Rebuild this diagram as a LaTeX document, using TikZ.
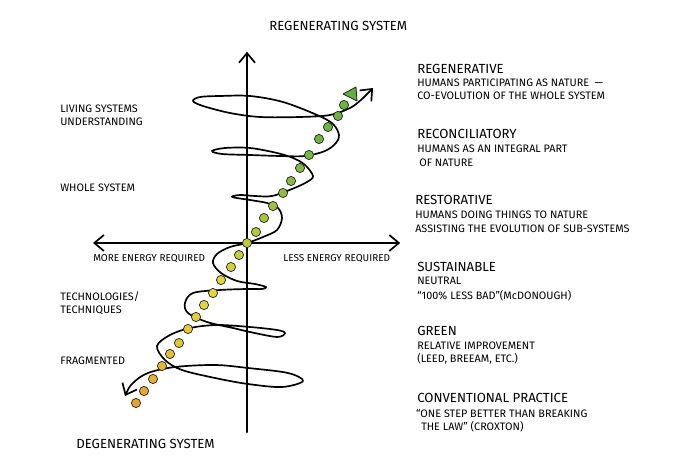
\documentclass[tikz,border=0pt]{standalone}
\usepackage{fontspec}
\setmainfont{Fira Sans}
\usetikzlibrary{arrows.meta}

\definecolor{dotgreen}{RGB}{110,180,66}
\definecolor{dotyellow}{RGB}{226,212,60}
\definecolor{dotorange}{RGB}{232,162,50}
\definecolor{flaggreen}{RGB}{96,176,58}

\tikzset{
  hand/.style={line width=1.2pt, line cap=round, line join=round},
  txt/.style={anchor=base west, inner sep=0pt, font=\fontsize{7.7}{9}\selectfont},
  axtxt/.style={anchor=base west, inner sep=0pt, font=\fontsize{7.1}{8}\selectfont},
  head/.style={anchor=base west, inner sep=0pt, font=\fontsize{9.4}{11}\selectfont},
  dot/.style={shape=circle, draw=black!85, line width=0.5pt, inner sep=0pt, minimum size=0.23cm}
}

\begin{document}
\begin{tikzpicture}[>={Straight Barb[length=2.4mm,width=4mm]}]

     \useasboundingbox (-6.175,-5.475) rectangle (10.825,6.075);

     % axes
     \coordinate (ytop)   at (0,4.78);
     \coordinate (ybot)   at (0,-4.73);
     \coordinate (xleft)  at (-3.85,0);
     \coordinate (xright) at (3.83,0);

     \draw [hand,->] (ybot) to (ytop);
     \draw [hand,<->] (xleft) to (xright);

     % spiral
     \draw [hand,<->] plot[smooth, tension=0.55] coordinates {
        (-3.05,-3.825) (-2.85,-3.5) (-2.475,-3.25) (-1.8,-3.1) (-0.8,-3.05)
        (0.025,-3.125) (1.025,-3.25) (1.4,-3.45) (0.875,-3.6) (0.025,-3.525)
        (-0.8,-3.375) (-1.625,-3.175) (-2.05,-2.925) (-2.25,-2.575)
        (-1.925,-2.3) (-1.425,-2.125) (-0.75,-2.05) (0.075,-2.1) (0.75,-2.175)
        (0.95,-2.25) (0.75,-2.35) (0.075,-2.225) (-0.35,-2.125) (-1.0,-1.975)
        (-1.475,-1.75) (-1.55,-1.5) (-1.35,-1.25) (-0.675,-1.175) (0,-1.15)
        (0.375,-1.15) (0.475,-1.1) (0.2,-1.025) (-0.25,-0.95) (-0.65,-0.75)
        (-0.85,-0.5) (-0.75,-0.275) (-0.425,-0.1) (0,0)
        (0.4,0.15) (0.75,0.325) (0.875,0.625) (0.775,0.875) (0.5,1.0)
        (0.075,1.075) (-0.375,1.15) (-0.175,1.2) (0.2,1.175) (0.625,1.175)
        (1.125,1.35) (1.5,1.525) (1.65,1.675) (1.45,1.95) (1.15,2.125)
        (0.75,2.25) (0.075,2.375) (-0.55,2.375) (-0.875,2.3) (-0.625,2.225)
        (0.075,2.2) (0.825,2.175) (1.45,2.175) (1.95,2.3) (2.225,2.5)
        (2.3,2.7) (2.15,2.975) (1.75,3.2) (0.9,3.525) (0.075,3.675)
        (-0.675,3.675) (-1.175,3.65) (-1.35,3.55) (-1.1,3.425) (-0.425,3.25)
        (0.325,3.15) (1.325,3.15) (2.075,3.2) (2.575,3.375) (2.875,3.6)
        (3.15,3.875)};

     % dots
     \foreach \p/\c [count=\i] in {
        (2.425,3.45)/dotgreen, (2.275,3.175)/dotgreen, (2.025,2.9)/dotgreen,
        (1.8,2.6)/dotgreen, (1.55,2.2)/dotgreen!92!dotyellow,
        (1.325,1.875)/dotgreen!85!dotyellow, (1.1,1.55)/dotgreen!78!dotyellow,
        (0.9,1.25)/dotgreen!70!dotyellow, (0.65,0.925)/dotgreen!60!dotyellow,
        (0.425,0.625)/dotgreen!50!dotyellow, (0.225,0.275)/dotgreen!40!dotyellow,
        (0,0)/dotgreen!32!dotyellow, (-0.2,-0.3)/dotgreen!25!dotyellow,
        (-0.4,-0.6)/dotgreen!15!dotyellow, (-0.65,-0.925)/dotyellow,
        (-0.85,-1.25)/dotyellow, (-1.075,-1.55)/dotyellow,
        (-1.275,-1.85)/dotyellow!90!dotorange, (-1.475,-2.15)/dotyellow!80!dotorange,
        (-1.7,-2.5)/dotyellow!70!dotorange, (-1.925,-2.775)/dotyellow!55!dotorange,
        (-2.125,-3.075)/dotyellow!40!dotorange, (-2.35,-3.4)/dotyellow!25!dotorange,
        (-2.575,-3.7)/dotyellow!10!dotorange, (-2.775,-4.0)/dotorange}
        \node[dot, fill=\c] (d\i) at \p {};

     \draw [draw=black!85, line width=0.6pt, fill=flaggreen, line join=round]
        (2.4,3.725) -- (2.725,3.9) -- (2.75,3.55) -- cycle;

     % axis labels
     \node[head] (regsys) at (0.55,5.3) {REGENERATING SYSTEM};
     \node[head] (degsys) at (-4.275,-5.15) {DEGENERATING SYSTEM};
     \node[axtxt] (more) at (-3.85,-0.475) {MORE ENERGY REQUIRED};
     \node[axtxt] (less) at (0.9,-0.475) {LESS ENERGY REQUIRED};

     % left labels
     \node[txt] (living1) at (-4.675,3.25) {LIVING SYSTEMS};
     \node[txt] (living2) at (-4.675,2.925) {UNDERSTANDING};
     \node[txt] (whole) at (-4.675,1.275) {WHOLE SYSTEM};
     \node[txt] (tech1) at (-4.675,-1.45) {TECHNOLOGIES/};
     \node[txt] (tech2) at (-4.675,-1.775) {TECHNIQUES};
     \node[txt] (frag) at (-4.675,-3.05) {FRAGMENTED};

     % right labels
     \node[head] (regen) at (4.25,4.225) {REGENERATIVE};
     \node[txt] (regen1) at (4.25,3.9) {HUMANS PARTICIPATING AS NATURE\enspace ---};
     \node[txt] (regen2) at (4.25,3.575) {CO-EVOLUTION OF THE WHOLE SYSTEM};

     \node[head] (recon) at (4.25,2.6) {RECONCILIATORY};
     \node[txt] (recon1) at (4.25,2.25) {HUMANS AS AN INTEGRAL PART};
     \node[txt] (recon2) at (4.3,1.9) {OF NATURE};

     \node[head] (resto) at (4.2,0.95) {RESTORATIVE};
     \node[txt] (resto1) at (4.2,0.6) {HUMANS DOING THINGS TO NATURE};
     \node[txt] (resto2) at (4.2,0.25) {ASSISTING THE EVOLUTION OF SUB-SYSTEMS};

     \node[head] (sust) at (4.25,-0.725) {SUSTAINABLE};
     \node[txt] (sust1) at (4.25,-1.05) {NEUTRAL};
     \node[txt] (sust2) at (4.25,-1.425) {“100\% LESS BAD”(McDONOUGH)};

     \node[head] (green) at (4.25,-2.325) {GREEN};
     \node[txt] (green1) at (4.25,-2.675) {RELATIVE IMPROVEMENT};
     \node[txt] (green2) at (4.25,-3.0) {(LEED, BREEAM, ETC.)};

     \node[head] (conv) at (4.25,-4.0) {CONVENTIONAL PRACTICE};
     \node[txt] (conv1) at (4.22,-4.35) {“ONE STEP BETTER THAN BREAKING};
     \node[txt] (conv2) at (4.35,-4.7) {THE LAW” (CROXTON)};

\end{tikzpicture}
\end{document}
